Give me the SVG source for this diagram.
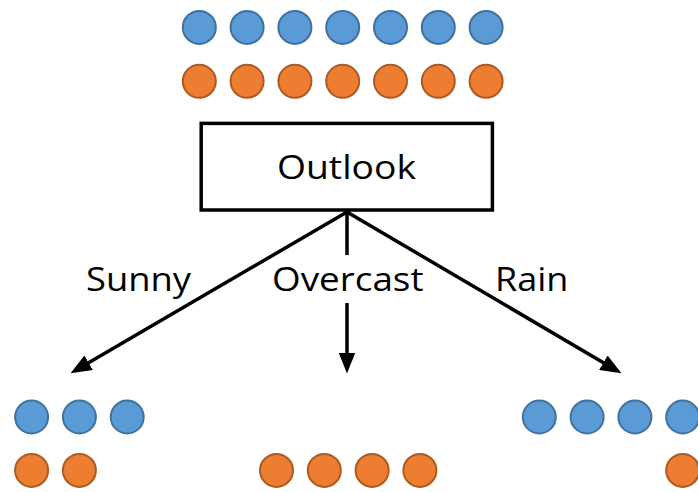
<svg xmlns="http://www.w3.org/2000/svg" width="698" height="492" viewBox="0 0 698 492">
<style>
.b{fill:#5B9BD5;stroke:#41719C;stroke-width:2}
.o{fill:#ED7D31;stroke:#AE5A21;stroke-width:2}
.t{font-family:"Open Sans","Noto Sans","DejaVu Sans",sans-serif;font-size:32px;fill:#000}
.c{stroke:#000;stroke-width:3.5;fill:none;marker-end:url(#ah)}
</style>
<defs>
<marker id="ah" viewBox="0 0 20 16" refX="10" refY="8" markerWidth="21" markerHeight="17" markerUnits="userSpaceOnUse" orient="auto">
<path d="M0,0 L20,8 L0,16 z" fill="#000"/>
</marker>
</defs>
<rect width="698" height="492" fill="#fff"/>
<g id="root-samples">
<circle class="b" cx="199.3" cy="27.4" r="16.5"/>
<circle class="b" cx="247.1" cy="27.4" r="16.5"/>
<circle class="b" cx="294.9" cy="27.4" r="16.5"/>
<circle class="b" cx="342.7" cy="27.4" r="16.5"/>
<circle class="b" cx="390.5" cy="27.4" r="16.5"/>
<circle class="b" cx="438.3" cy="27.4" r="16.5"/>
<circle class="b" cx="486.1" cy="27.4" r="16.5"/>
<circle class="o" cx="199.3" cy="81.3" r="16.5"/>
<circle class="o" cx="247.1" cy="81.3" r="16.5"/>
<circle class="o" cx="294.9" cy="81.3" r="16.5"/>
<circle class="o" cx="342.7" cy="81.3" r="16.5"/>
<circle class="o" cx="390.5" cy="81.3" r="16.5"/>
<circle class="o" cx="438.3" cy="81.3" r="16.5"/>
<circle class="o" cx="486.1" cy="81.3" r="16.5"/>
</g>
<g id="outlook">
<rect x="201.2" y="123.4" width="291.2" height="86.6" fill="#fff" stroke="#000" stroke-width="3.5"/>
<text class="t" x="277" y="178.5" textLength="139" lengthAdjust="spacingAndGlyphs">Outlook</text>
</g>
<g id="connectors">
<path class="c" d="M347,212 L79.6,368"/>
<path class="c" d="M347,212 V255 M347,303 V363"/>
<path class="c" d="M347,212 L612.4,368"/>
<text class="t" x="86" y="290.7" textLength="105" lengthAdjust="spacingAndGlyphs">Sunny</text>
<text class="t" x="272" y="290.7" textLength="151.5" lengthAdjust="spacingAndGlyphs">Overcast</text>
<text class="t" x="495" y="290.7" textLength="73.3" lengthAdjust="spacingAndGlyphs">Rain</text>
</g>
<g id="sunny-samples">
<circle class="b" cx="31.6" cy="417" r="16.5"/>
<circle class="b" cx="79.4" cy="417" r="16.5"/>
<circle class="b" cx="127.2" cy="417" r="16.5"/>
<circle class="o" cx="31.6" cy="470.4" r="16.5"/>
<circle class="o" cx="79.4" cy="470.4" r="16.5"/>
</g>
<g id="overcast-samples">
<circle class="o" cx="276.5" cy="470.4" r="16.5"/>
<circle class="o" cx="324.3" cy="470.4" r="16.5"/>
<circle class="o" cx="372.1" cy="470.4" r="16.5"/>
<circle class="o" cx="419.9" cy="470.4" r="16.5"/>
</g>
<g id="rain-samples">
<circle class="b" cx="539.3" cy="417" r="16.5"/>
<circle class="b" cx="587.1" cy="417" r="16.5"/>
<circle class="b" cx="634.9" cy="417" r="16.5"/>
<circle class="b" cx="682.7" cy="417" r="16.5"/>
<circle class="o" cx="682.7" cy="470.4" r="16.5"/>
</g>
</svg>
